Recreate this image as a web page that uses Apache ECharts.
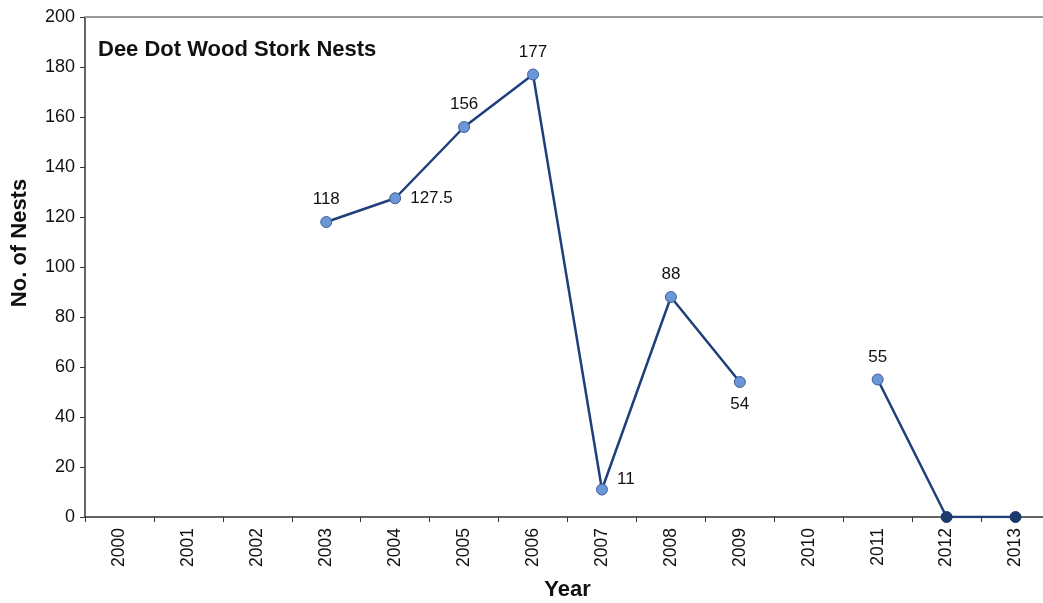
<!DOCTYPE html>
<html>
<head>
<meta charset="utf-8">
<script src="https://cdn.jsdelivr.net/npm/echarts@6/dist/echarts.min.js"></script>
<style>html,body{margin:0;padding:0;background:#fff;}#c{width:1043px;height:603px;}</style>
</head>
<body>
<div id="c"></div>
<script>
var years = ['2000','2001','2002','2003','2004','2005','2006','2007','2008','2009','2010','2011','2012','2013'];
var nests = [null, null, null, 118, 127.5, 156, 177, 11, 88, 54, null, 55, 0, 0];
var labelPos = ['top','top','top','top','right','top','top','right','top','bottom','top','top','none','none'];
var yTicks = [0, 20, 40, 60, 80, 100, 120, 140, 160, 180, 200];

var FONT = '"Liberation Sans", Arial, sans-serif';
var seriesData = nests.map(function (v, i) {
  var d = { value: v };
  if (labelPos[i] === 'none') {
    d.label = { show: false };
    d.itemStyle = { color: '#1b3a6e', borderColor: '#1b3a6e' };
  } else {
    d.label = { position: labelPos[i], distance: labelPos[i] === 'right' ? 9 : 8 };
    if (years[i] === '2007') { d.label.offset = [0, -10]; }
  }
  return d;
});

var chart = echarts.init(document.getElementById('c'));
chart.setOption({
  animation: false,
  backgroundColor: '#ffffff',
  title: {
    text: 'Dee Dot Wood Stork Nests',
    left: 93, top: 34,
    textStyle: { fontFamily: FONT, fontSize: 22, fontWeight: 'bold', color: '#111' }
  },
  grid: { left: 85, top: 17, width: 965, height: 500, containLabel: false, outerBoundsMode: 'none' },
  xAxis: [{
    type: 'category',
    data: years,
    boundaryGap: true,
    name: 'Year',
    nameLocation: 'middle',
    nameGap: 62,
    nameTextStyle: { fontFamily: FONT, fontSize: 22, fontWeight: 'bold', color: '#111' },
    axisLine: { lineStyle: { color: '#333', width: 1.5 } },
    axisTick: { show: true, inside: false, length: 5, lineStyle: { color: '#333' } },
    axisLabel: { rotate: 90, margin: 11, fontFamily: FONT, fontSize: 17.5, color: '#111' },
    splitLine: { show: false }
  }, {
    type: 'category',
    data: years,
    position: 'top',
    axisLine: { lineStyle: { color: '#9a9a9a', width: 2 } },
    axisTick: { show: false },
    axisLabel: { show: false }
  }],
  yAxis: {
    type: 'value',
    min: 0, max: 200, interval: 20,
    name: 'No. of Nests',
    nameLocation: 'middle',
    nameGap: 54,
    nameTextStyle: { fontFamily: FONT, fontSize: 22, fontWeight: 'bold', color: '#111', padding: [0, 0, 0, 48] },
    axisLine: { show: true, lineStyle: { color: '#333', width: 1.5 } },
    axisTick: { show: true, length: 5, lineStyle: { color: '#333' } },
    axisLabel: {
      margin: 10, fontFamily: FONT, fontSize: 18, color: '#111',
      formatter: function (v) { return yTicks.indexOf(v) >= 0 ? String(v) : ''; }
    },
    splitLine: { show: false }
  },
  series: [{
    type: 'line',
    data: seriesData,
    connectNulls: false,
    symbol: 'circle',
    symbolSize: 11,
    lineStyle: { color: '#1f3f7a', width: 2.5 },
    itemStyle: { color: '#6b97d6', borderColor: '#3d5f99', borderWidth: 1 },
    label: { show: true, fontFamily: FONT, fontSize: 17, color: '#111' },
    z: 5
  }]
});
</script>
</body>
</html>
